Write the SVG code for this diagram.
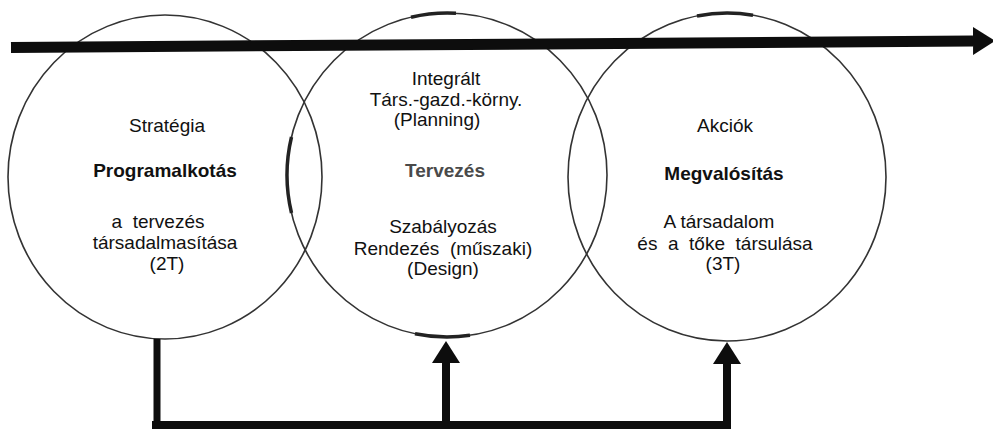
<svg xmlns="http://www.w3.org/2000/svg" width="993" height="429" viewBox="0 0 993 429">
  <style>
    .ring { fill: none; stroke: #333; stroke-width: 1.6; }
    .ring-thick { fill: none; stroke: #222; stroke-width: 3.5; }
    .t { font-family: "Liberation Sans", Arial, Helvetica, sans-serif; font-size: 19px; fill: #111; text-anchor: middle; }
    .b { font-weight: bold; }
    .gray { fill: #4a4a4a; }
    .bar { stroke: #0d0d0d; fill: none; stroke-linecap: butt; }
  </style>
  <defs>
    <marker id="head" markerUnits="userSpaceOnUse" viewBox="0 0 22 28" markerWidth="22" markerHeight="28" refX="0" refY="14" orient="auto">
      <path d="M0,0 L22,14 L0,28 Z" fill="#0d0d0d"/>
    </marker>
  </defs>
  <rect width="993" height="429" fill="#fff"/>

  <g id="circle1">
    <ellipse class="ring" cx="165" cy="177" rx="157" ry="162"/>
    <text class="t" x="167" y="132">Stratégia</text>
    <text class="t b" x="165" y="177">Programalkotás</text>
    <text class="t" x="158" y="228" xml:space="preserve">a  tervezés</text>
    <text class="t" x="165" y="249">társadalmasítása</text>
    <text class="t" x="167" y="270">(2T)</text>
  </g>

  <g id="circle2">
    <ellipse class="ring" cx="447" cy="175" rx="160" ry="162"/>
    <path class="ring-thick" d="M291.5,137 A160,162 0 0 0 291.5,213"/>
    <path class="ring-thick" d="M411,17.2 A160,162 0 0 1 456,13.2"/>
    <path class="ring-thick" d="M415,333.7 A160,162 0 0 0 470,335.3"/>
    <text class="t" x="446" y="85">Integrált</text>
    <text class="t" x="446" y="106">Társ.-gazd.-körny.</text>
    <text class="t" x="437" y="126">(Planning)</text>
    <text class="t b gray" x="445" y="177">Tervezés</text>
    <text class="t" x="443" y="233">Szabályozás</text>
    <text class="t" x="443" y="255" xml:space="preserve">Rendezés  (műszaki)</text>
    <text class="t" x="443" y="275">(Design)</text>
  </g>

  <g id="circle3">
    <ellipse class="ring" cx="727" cy="177" rx="159" ry="164"/>
    <path class="ring-thick" d="M697,16 A159,164 0 0 1 753,15.2"/>
    <text class="t" x="725" y="132">Akciók</text>
    <text class="t b" x="724" y="180">Megvalósítás</text>
    <text class="t" x="719" y="228">A társadalom</text>
    <text class="t" x="725" y="250" xml:space="preserve">és  a  tőke  társulása</text>
    <text class="t" x="723" y="270">(3T)</text>
  </g>

  <g id="connectors">
    <line class="bar" x1="11" y1="47.5" x2="973" y2="41" stroke-width="11" marker-end="url(#head)"/>
    <line class="bar" x1="157" y1="339" x2="157" y2="429" stroke-width="7"/>
    <line class="bar" x1="152" y1="425" x2="731" y2="425" stroke-width="8"/>
    <line class="bar" x1="446" y1="425" x2="446" y2="363" stroke-width="8" marker-end="url(#head)"/>
    <line class="bar" x1="727" y1="425" x2="727" y2="364" stroke-width="8" marker-end="url(#head)"/>
  </g>
</svg>
